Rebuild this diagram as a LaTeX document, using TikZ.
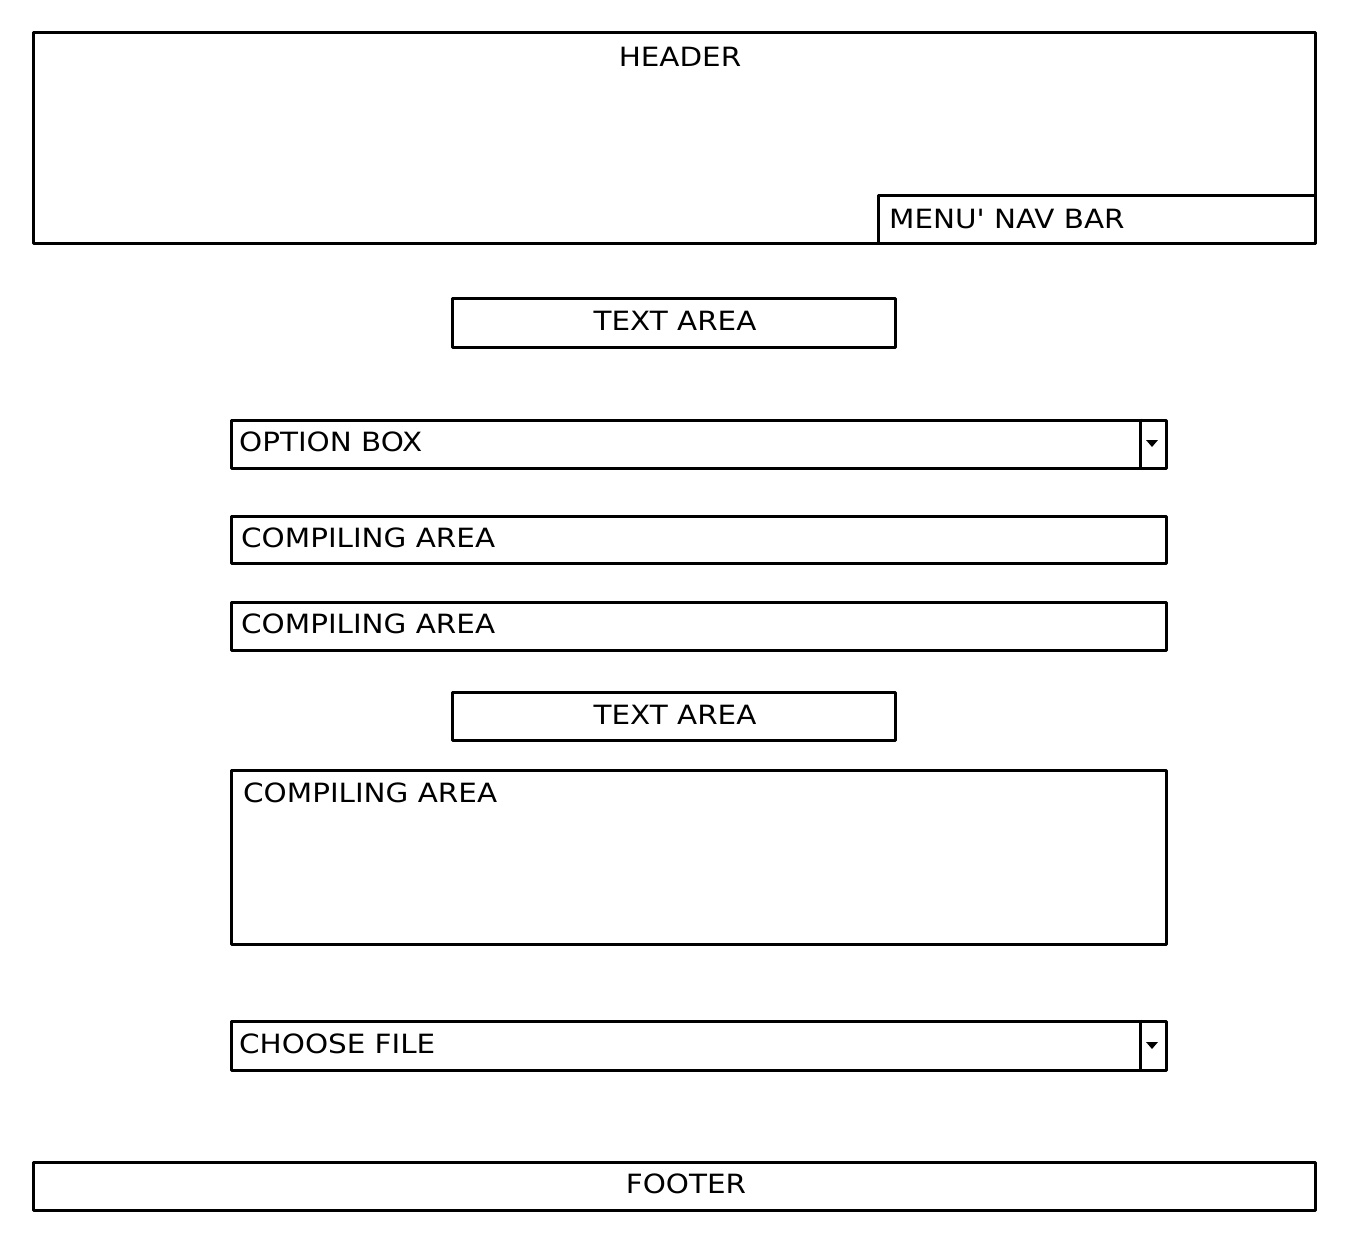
\documentclass[tikz,border=0pt]{standalone}
\usepackage{fontspec}
\newfontfamily\lblfont{DejaVu Sans}[FakeStretch=1.11]
\begin{document}
\begin{tikzpicture}[x=1pt,y=-1pt,
  box/.style={draw=black,line width=3pt,fill=white,rectangle,inner sep=0pt,line join=round},
  lbl/.style={inner sep=0pt,font=\lblfont\fontsize{26.5}{30}\selectfont},
  tri/.style={fill=black}]
\useasboundingbox[fill=white] (0,0) rectangle (1354,1252);
% header and nav bar
\node[box,minimum width=1282pt,minimum height=210pt] (header) at (674,138) {};
\node[box,minimum width=437pt,minimum height=47pt] (nav) at (1096.5,219.5) {};
\node[lbl] (headert) at (680,57) {HEADER};
\node[lbl,anchor=west] (navt) at (889,219) {MENU' NAV BAR};
% text area 1
\node[box,minimum width=443pt,minimum height=49pt] (ta1) at (673.5,322.5) {};
\node[lbl] (ta1t) at (675,321) {TEXT AREA};
% option box
\node[box,minimum width=935pt,minimum height=48pt] (opt) at (698.5,444) {};
\node[lbl,anchor=west] (optt) at (239,442) {OPTION BOX};
\draw[line width=3pt] ([xshift=-27pt]opt.north east) -- ([xshift=-27pt]opt.south east);
\fill[tri] (1146,440) -- (1158,440) -- (1152,447) -- cycle;
% compiling areas
\node[box,minimum width=935pt,minimum height=47pt] (c1) at (698.5,539.5) {};
\node[lbl,anchor=west] (c1t) at (241,538) {COMPILING AREA};
\node[box,minimum width=935pt,minimum height=48pt] (c2) at (698.5,626) {};
\node[lbl,anchor=west] (c2t) at (241,624) {COMPILING AREA};
% text area 2
\node[box,minimum width=443pt,minimum height=48pt] (ta2) at (673.5,716) {};
\node[lbl] (ta2t) at (675,715) {TEXT AREA};
% compiling area 3
\node[box,minimum width=935pt,minimum height=174pt] (c3) at (698.5,857) {};
\node[lbl,anchor=west] (c3t) at (243,793) {COMPILING AREA};
% choose file
\node[box,minimum width=935pt,minimum height=49pt] (cf) at (698.5,1045.5) {};
\node[lbl,anchor=west] (cft) at (239,1044) {CHOOSE FILE};
\draw[line width=3pt] ([xshift=-27pt]cf.north east) -- ([xshift=-27pt]cf.south east);
\fill[tri] (1146,1042) -- (1158,1042) -- (1152,1049) -- cycle;
% footer
\node[box,minimum width=1282pt,minimum height=48pt] (footer) at (674,1186) {};
\node[lbl] (footert) at (686,1184) {FOOTER};
\end{tikzpicture}
\end{document}
